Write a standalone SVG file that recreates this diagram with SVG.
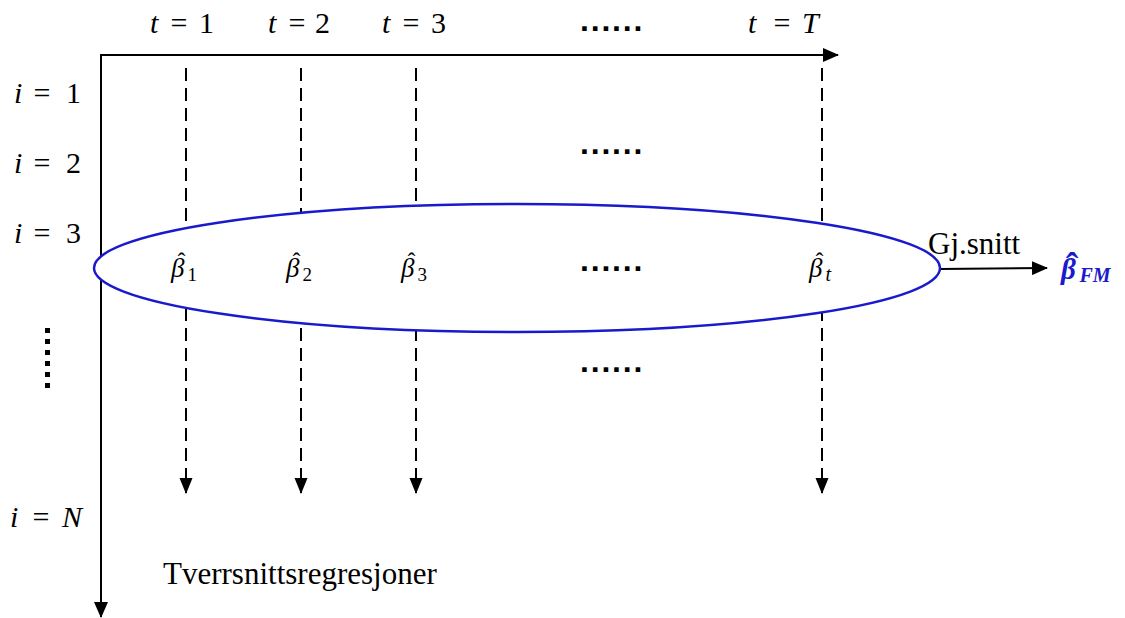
<svg xmlns="http://www.w3.org/2000/svg" width="1125" height="618" viewBox="0 0 1125 618">
<style>
.m{font-family:"Liberation Serif","DejaVu Serif",serif;font-size:30px;fill:#000}
.v{font-style:italic}
.eq{text-anchor:middle}
.b{font-family:"Liberation Serif","DejaVu Serif",serif;font-style:italic;font-size:27px;fill:#000}
.hs{font-size:24px;font-style:normal}
.ss{font-size:19px;font-style:normal}
.st{font-size:20px;font-style:italic}
.t{font-family:"Liberation Serif",serif;font-size:31px;fill:#000}
.axis{stroke:#000;stroke-width:2;fill:none}
.dash{stroke:#000;stroke-width:2;stroke-dasharray:13 7;fill:none}
.dots{font-family:"Liberation Sans",sans-serif;font-weight:bold;font-size:32px;fill:#000;letter-spacing:1.8px}
.fm{font-family:"Liberation Serif",serif;font-weight:bold;font-style:italic;font-size:29px;fill:#1a1acc}
</style>
<defs>
<marker id="ah" markerWidth="16" markerHeight="14" refX="15" refY="7" orient="auto" markerUnits="userSpaceOnUse">
<path d="M0,0 L16,7 L0,14 Z" fill="#000"/>
</marker>
<marker id="dh" markerWidth="16" markerHeight="14" refX="15" refY="6.5" orient="auto" markerUnits="userSpaceOnUse">
<path d="M0,0 L16,6.5 L0,13 Z" fill="#000"/>
</marker>
</defs>
<g id="connectors">
<line class="axis" x1="101" y1="55" x2="838" y2="55" marker-end="url(#ah)"/>
<line class="axis" x1="101" y1="54" x2="101" y2="617" marker-end="url(#ah)"/>
<line class="dash" x1="186" y1="68" x2="186" y2="493" marker-end="url(#dh)"/>
<line class="dash" x1="301" y1="68" x2="301" y2="493" marker-end="url(#dh)"/>
<line class="dash" x1="416" y1="68" x2="416" y2="493" marker-end="url(#dh)"/>
<line class="dash" x1="822" y1="68" x2="822" y2="493" marker-end="url(#dh)"/>
<line class="axis" x1="940" y1="269" x2="1047" y2="268" marker-end="url(#ah)"/>
</g>
<g id="ellipse">
<ellipse cx="517" cy="268" rx="423" ry="64" fill="#fff" stroke="#1a1acc" stroke-width="2.5"/>
</g>
<g id="col-labels">
<text class="m v" x="150" y="33">t</text><text class="m eq" x="179" y="33">=</text><text class="m" x="199" y="33">1</text>
<text class="m v" x="268" y="33">t</text><text class="m eq" x="297" y="33">=</text><text class="m" x="315" y="33">2</text>
<text class="m v" x="382" y="33">t</text><text class="m eq" x="411" y="33">=</text><text class="m" x="431" y="33">3</text>
<text class="dots" x="580" y="31">......</text>
<text class="m v" x="748" y="33">t</text><text class="m eq" x="782" y="33">=</text><text class="m v" x="802" y="33">T</text>
</g>
<g id="row-labels">
<text class="m v" x="14" y="103">i</text><text class="m eq" x="42" y="103">=</text><text class="m" x="66" y="103">1</text>
<text class="m v" x="14" y="173">i</text><text class="m eq" x="42" y="173">=</text><text class="m" x="66" y="173">2</text>
<text class="m v" x="14" y="243">i</text><text class="m eq" x="42" y="243">=</text><text class="m" x="66" y="243">3</text>
<text class="m v" x="10" y="527">i</text><text class="m eq" x="41" y="527">=</text><text class="m v" x="62" y="527">N</text>
<g fill="#000">
<rect x="45" y="328" width="5" height="5"/><rect x="45" y="339" width="5" height="5"/><rect x="45" y="350" width="5" height="5"/><rect x="45" y="361" width="5" height="5"/><rect x="45" y="372" width="5" height="5"/><rect x="45" y="383" width="5" height="5"/>
</g>
</g>
<g id="estimates">
<text class="b" x="171" y="277">β<tspan class="hs" dx="-7" dy="-8">ˆ</tspan><tspan class="ss" dx="2" dy="12">1</tspan></text>
<text class="b" x="286" y="277">β<tspan class="hs" dx="-7" dy="-8">ˆ</tspan><tspan class="ss" dx="2" dy="12">2</tspan></text>
<text class="b" x="401" y="277">β<tspan class="hs" dx="-7" dy="-8">ˆ</tspan><tspan class="ss" dx="2" dy="12">3</tspan></text>
<text class="dots" x="580" y="271">......</text>
<text class="b" x="809" y="277">β<tspan class="hs" dx="-7" dy="-8">ˆ</tspan><tspan class="st" dx="2" dy="12">t</tspan></text>
</g>
<g id="other-dots">
<text class="dots" x="580" y="154">......</text>
<text class="dots" x="580" y="372">......</text>
</g>
<g id="average">
<text class="t" x="928" y="254">Gj.snitt</text>
<text class="fm" x="1061" y="279">β<tspan font-size="38" font-style="normal" dx="-10" dy="0">ˆ</tspan><tspan font-size="20" dx="1" dy="3">FM</tspan></text>
</g>
<g id="caption">
<text class="t" x="163" y="584">Tverrsnittsregresjoner</text>
</g>
</svg>
